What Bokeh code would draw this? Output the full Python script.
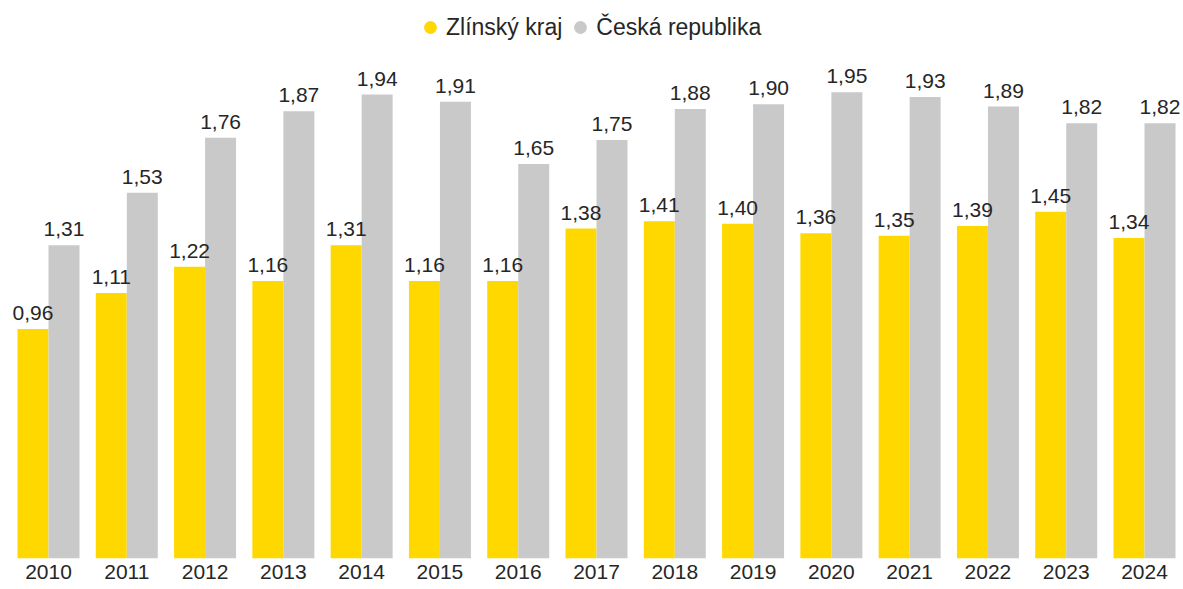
from bokeh.plotting import figure
from bokeh.models import ColumnDataSource, Range1d, Legend, LegendItem, FixedTicker
from bokeh.transform import dodge
from bokeh.core.properties import value
from bokeh.embed import file_html
from bokeh.resources import INLINE

years = ["2010", "2011", "2012", "2013", "2014", "2015", "2016", "2017",
         "2018", "2019", "2020", "2021", "2022", "2023", "2024"]
zlinsky = [0.96, 1.11, 1.22, 1.16, 1.31, 1.16, 1.16, 1.38, 1.41, 1.40,
           1.36, 1.35, 1.39, 1.45, 1.34]
cr = [1.31, 1.53, 1.76, 1.87, 1.94, 1.91, 1.65, 1.75, 1.88, 1.90,
      1.95, 1.93, 1.89, 1.82, 1.82]
series_names = ["Zlínský kraj", "Česká republika"]

YELLOW = "#FFD800"
GRAY = "#C9C9C9"
FONT = "Liberation Sans"
TXT = "#262626"

idx = list(range(len(years)))
src = ColumnDataSource(dict(
    x=idx,
    zl=zlinsky,
    cr=cr,
    zl_lbl=[f"{v:.2f}".replace(".", ",") for v in zlinsky],
    cr_lbl=[f"{v:.2f}".replace(".", ",") for v in cr],
))

p = figure(frame_width=1175, frame_height=550, output_backend="svg",
           toolbar_location=None, x_range=Range1d(-0.511, 14.498),
           y_range=Range1d(0, 2.30), min_border=0,
           min_border_left=8, min_border_top=8)
p.outline_line_color = None
p.xgrid.visible = False
p.ygrid.visible = False
p.yaxis.visible = False

w = 0.396
p.vbar(x=dodge("x", -w / 2), top="zl", width=w, bottom=0, source=src,
       fill_color=YELLOW, line_color=None)
p.vbar(x=dodge("x", w / 2), top="cr", width=w, bottom=0, source=src,
       fill_color=GRAY, line_color=None)

for col, off in (("zl", -w / 2), ("cr", w / 2)):
    p.text(x=dodge("x", off), y=col, text=col + "_lbl", source=src,
           text_align="center", text_baseline="bottom", y_offset=-9,
           text_font=value(FONT), text_font_size="21px", text_color=TXT)

xa = p.xaxis[0]
xa.ticker = FixedTicker(ticks=idx)
xa.major_label_overrides = {i: y for i, y in zip(idx, years)}
xa.axis_line_color = None
xa.major_tick_line_color = None
xa.minor_tick_line_color = None
xa.major_tick_out = 0
xa.major_tick_in = 0
xa.major_label_standoff = 6
xa.major_label_text_font = FONT
xa.major_label_text_font_size = "21px"
xa.major_label_text_color = TXT

# legend markers (points placed outside the visible range)
off_src = ColumnDataSource(dict(x=[-5], y=[-5]))
r1 = p.scatter(x="x", y="y", source=off_src, marker="circle", size=13,
               fill_color=YELLOW, line_color=None)
r2 = p.scatter(x="x", y="y", source=off_src, marker="circle", size=13,
               fill_color=GRAY, line_color=None)
legend = Legend(items=[LegendItem(label=series_names[0], renderers=[r1]),
                       LegendItem(label=series_names[1], renderers=[r2])],
                orientation="horizontal", location=(406, 515),
                border_line_color=None, background_fill_alpha=0,
                label_text_font=FONT, label_text_font_size="23px",
                label_text_color=TXT, glyph_width=32, glyph_height=32,
                label_standoff=0, spacing=2, margin=0, padding=0)
p.add_layout(legend)

open("out.html", "w").write(file_html(p, INLINE))
